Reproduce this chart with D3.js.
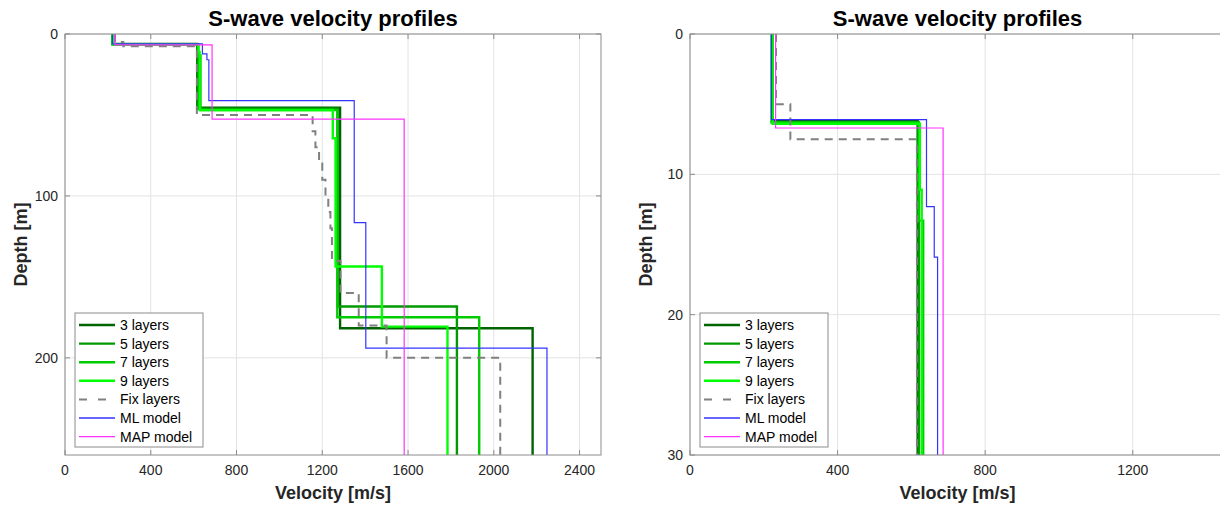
<!DOCTYPE html>
<html>
<head>
<meta charset="utf-8">
<script src="https://cdn.jsdelivr.net/npm/d3@7"></script>
<style>
  body { margin: 0; background: #fff; }
  svg { font-family: "Liberation Sans", Arial, sans-serif; }
</style>
</head>
<body>
<div id="chart"></div>
<script>
// series names and colours
const names = ['3 layers', '5 layers', '7 layers', '9 layers', 'Fix layers', 'ML model', 'MAP model'];

// velocities (m/s) of each layer, top to bottom
const vel3 = [224, 617, 1283, 2181];
const vel5 = [222, 620, 1272, 1828];
const vel7 = [221, 620, 632, 1270, 1932];
const vel9 = [224, 623, 628, 1249, 1262, 1478, 1784];
const velFix = [233, 272, 615, 1155, 1168, 1185, 1200, 1215, 1228, 1238, 1245, 1285, 1370, 1500, 2030];
const velML = [221, 641, 662, 671, 1349, 1403, 2248];
const velMAP = [232, 686, 1582];

// depth (m) of the bottom of each layer (last layer is a half-space)
const dep3 = [6.2, 45.5, 181.7];
const dep5 = [6.3, 46.2, 168.3];
const dep7 = [6.3, 13.3, 47, 174.9];
const dep9 = [6.4, 11.1, 46.9, 64.4, 143.6, 180.7];
const depFix = [5, 7.5, 50, 60, 70, 80, 90, 100, 110, 120, 140, 160, 180, 200];
const depML = [6.1, 12.3, 15.9, 41.2, 116.5, 194];
const depMAP = [6.7, 52.6];

const xTicksL = [0, 400, 800, 1200, 1600, 2000, 2400];
const yTicksL = [0, 100, 200];
const xTicksR = [0, 400, 800, 1200];
const yTicksR = [0, 10, 20, 30];

const profiles = [
  { name: names[0], v: vel3, d: dep3, color: '#006400', w: 2.4 },
  { name: names[1], v: vel5, d: dep5, color: '#009a00', w: 2.4 },
  { name: names[2], v: vel7, d: dep7, color: '#00cc00', w: 2.4 },
  { name: names[3], v: vel9, d: dep9, color: '#00ff00', w: 2.4 },
  { name: names[4], v: velFix, d: depFix, color: '#808080', w: 2, dash: '8,6' },
  { name: names[5], v: velML, d: depML, color: '#3333ff', w: 1.2 },
  { name: names[6], v: velMAP, d: depMAP, color: '#ff33ff', w: 1.2 }
];

function stepPoints(v, d, maxDepth) {
  const pts = [[v[0], 0]];
  d.forEach((z, i) => {
    pts.push([v[i], z]);
    pts.push([v[i + 1], z]);
  });
  pts.push([v[v.length - 1], maxDepth]);
  return pts;
}

const W = 1220, H = 510;
const svg = d3.select('#chart').append('svg')
  .attr('width', W)
  .attr('height', H);

function panel(id, left, right, xMax, yMax, xTicks, yTicks) {
  const top = 34, bottom = 455;
  const x = d3.scaleLinear().domain([0, xMax]).range([left, right]);
  const y = d3.scaleLinear().domain([0, yMax]).range([top, bottom]);
  const g = svg.append('g');

  g.append('clipPath').attr('id', id)
    .append('rect')
      .attr('x', left).attr('y', top)
      .attr('width', right - left).attr('height', bottom - top);

  // grid
  g.selectAll('.gx').data(xTicks).enter().append('line')
      .attr('x1', d => x(d)).attr('x2', d => x(d))
      .attr('y1', top).attr('y2', bottom)
      .attr('stroke', '#e3e3e3').attr('stroke-width', 1);
  g.selectAll('.gy').data(yTicks).enter().append('line')
      .attr('x1', left).attr('x2', right)
      .attr('y1', d => y(d)).attr('y2', d => y(d))
      .attr('stroke', '#e3e3e3').attr('stroke-width', 1);

  // profiles
  const line = d3.line().x(d => x(d[0])).y(d => y(d[1]));
  g.append('g').attr('clip-path', `url(#${id})`)
    .selectAll('path').data(profiles).enter().append('path')
      .attr('d', p => line(stepPoints(p.v, p.d, 300)))
      .attr('fill', 'none')
      .attr('stroke', p => p.color)
      .attr('stroke-width', p => p.w)
      .attr('stroke-dasharray', p => p.dash || null);

  // box and ticks
  const axG = g.append('g').attr('stroke', '#8c8c8c').attr('stroke-width', 1);
  axG.append('rect')
    .attr('x', left).attr('y', top)
    .attr('width', right - left).attr('height', bottom - top)
    .attr('fill', 'none');
  axG.selectAll('.tb').data(xTicks).enter().append('line')
      .attr('x1', d => x(d)).attr('x2', d => x(d))
      .attr('y1', bottom).attr('y2', bottom - 5);
  axG.selectAll('.tt').data(xTicks).enter().append('line')
      .attr('x1', d => x(d)).attr('x2', d => x(d))
      .attr('y1', top).attr('y2', top + 5);
  axG.selectAll('.tl').data(yTicks).enter().append('line')
      .attr('x1', left).attr('x2', left + 5)
      .attr('y1', d => y(d)).attr('y2', d => y(d));
  axG.selectAll('.tr').data(yTicks).enter().append('line')
      .attr('x1', right).attr('x2', right - 5)
      .attr('y1', d => y(d)).attr('y2', d => y(d));

  // tick labels
  g.selectAll('.xl').data(xTicks).enter().append('text')
      .attr('x', d => x(d)).attr('y', bottom + 20)
      .attr('text-anchor', 'middle')
      .attr('font-size', 14).attr('fill', '#262626')
      .text(d => d);
  g.selectAll('.yl').data(yTicks).enter().append('text')
      .attr('x', left - 7).attr('y', d => y(d) + 5)
      .attr('text-anchor', 'end')
      .attr('font-size', 14).attr('fill', '#262626')
      .text(d => d);

  // titles
  const cx = (left + right) / 2;
  g.append('text')
    .attr('x', cx).attr('y', 26)
    .attr('text-anchor', 'middle')
    .attr('font-size', 22).attr('font-weight', 'bold').attr('fill', '#000')
    .text('S-wave velocity profiles');
  g.append('text')
    .attr('x', cx).attr('y', 499)
    .attr('text-anchor', 'middle')
    .attr('font-size', 18).attr('font-weight', 'bold').attr('fill', '#262626')
    .text('Velocity [m/s]');
  g.append('text')
    .attr('transform', `translate(${left - 38}, ${(top + bottom) / 2}) rotate(-90)`)
    .attr('text-anchor', 'middle')
    .attr('font-size', 18).attr('font-weight', 'bold').attr('fill', '#262626')
    .text('Depth [m]');

  // legend
  const lx = left + 10, ly = 313, lw = 128, lh = 134;
  const leg = g.append('g');
  leg.append('rect')
    .attr('x', lx).attr('y', ly).attr('width', lw).attr('height', lh)
    .attr('fill', '#fff').attr('stroke', '#8c8c8c').attr('stroke-width', 1);
  const items = leg.selectAll('.li').data(profiles).enter().append('g')
      .attr('transform', (p, i) => `translate(${lx}, ${ly + 12 + i * 18.6})`);
  items.append('line')
      .attr('x1', 4).attr('x2', 40)
      .attr('stroke', p => p.color)
      .attr('stroke-width', p => (p.w > 2 ? 2.4 : p.w === 2 ? 2 : 1.4))
      .attr('stroke-dasharray', p => p.dash ? '8,11' : null);
  items.append('text')
      .attr('x', 45).attr('y', 5)
      .attr('font-size', 14).attr('fill', '#000')
      .text(p => p.name);
}

panel('clipL', 65, 601, 2500, 260, xTicksL, yTicksL);
panel('clipR', 690, 1225, 1450, 30, xTicksR, yTicksR);
</script>
</body>
</html>
